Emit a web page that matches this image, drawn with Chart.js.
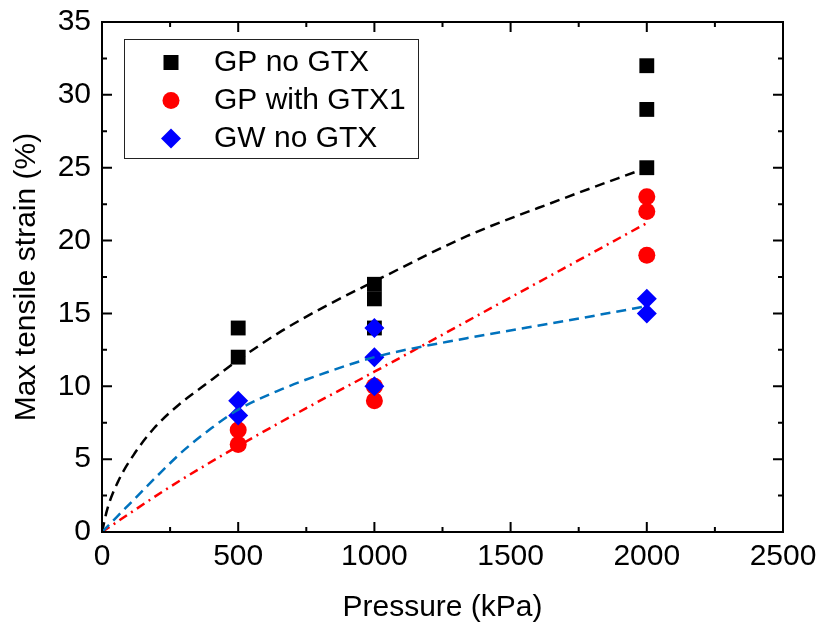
<!DOCTYPE html>
<html>
<head>
<meta charset="utf-8">
<script src="https://cdn.jsdelivr.net/npm/chart.js@4.4.0/dist/chart.umd.min.js"></script>
<style>
  body { margin: 0; background: #fff; }
  #wrap { width: 819px; height: 630px; }
</style>
</head>
<body>
<div id="wrap"><canvas id="strainChart" width="819" height="630"></canvas></div>
<script>
// measured points (pressure kPa / max tensile strain %)
var gpNoGtxX = [500, 500, 1000, 1000, 1000, 2000, 2000, 2000];
var gpNoGtxY = [14, 12, 17, 16, 14, 32, 29, 25];
var gpGtx1X = [500, 500, 1000, 1000, 2000, 2000, 2000];
var gpGtx1Y = [7, 6, 10, 9, 23, 22, 19];
var gwNoGtxX = [500, 500, 1000, 1000, 1000, 2000, 2000];
var gwNoGtxY = [9, 8, 14, 12, 10, 16, 15];

// fitted curves
var gpNoGtxFitX = [0, 20, 60, 120, 190, 280, 378, 500, 660, 831, 1000, 1339, 1681, 2000];
var gpNoGtxFitY = [0, 1.6, 3.5, 5.4, 7.1, 8.7, 10.1, 11.8, 13.8, 15.6, 17.2, 20.3, 22.8, 25.0];
var gpGtx1FitX = [0, 250, 500, 750, 1000, 1500, 2000];
var gpGtx1FitY = [0, 3.1, 5.9, 8.5, 11.0, 16.1, 21.2];
var gwNoGtxFitX = [0, 100, 200, 300, 400, 500, 660, 831, 1000, 1339, 1706, 2000];
var gwNoGtxFitY = [0, 1.9, 3.8, 5.6, 7.1, 8.4, 9.8, 11.0, 12.0, 13.3, 14.5, 15.5];

var xTicks = [0, 500, 1000, 1500, 2000, 2500];
var xMinor = [250, 750, 1250, 1750, 2250];
var yTicks = [0, 5, 10, 15, 20, 25, 30, 35];
var yMinor = [2.5, 7.5, 12.5, 17.5, 22.5, 27.5, 32.5];

var legendNames = ['GP no GTX', 'GP with GTX1', 'GW no GTX'];
var legendColors = ['#000000', '#ff0000', '#0000ff'];
var legendShapes = ['rect', 'circle', 'rectRot'];

var FONT = "'Liberation Sans', Arial, sans-serif";

function toPoints(xs, ys) {
    var pts = [];
    for (var i = 0; i < xs.length; i++) {
        pts.push({ x: xs[i], y: ys[i] });
    }
    return pts;
}

function drawMarker(ctx, shape, x, y, color) {
    ctx.fillStyle = color;
    ctx.beginPath();
    if (shape === 'rect') {
        ctx.rect(x - 7.5, y - 7.5, 15, 15);
    } else if (shape === 'circle') {
        ctx.arc(x, y, 8.5, 0, Math.PI * 2);
    } else {
        ctx.moveTo(x, y - 10);
        ctx.lineTo(x + 10, y);
        ctx.lineTo(x, y + 10);
        ctx.lineTo(x - 10, y);
        ctx.closePath();
    }
    ctx.fill();
}

var frameAndLegend = {
    id: 'frameAndLegend',
    afterDraw: function (chart) {
        var ctx = chart.ctx;
        var a = chart.chartArea;
        var xs = chart.scales.x;
        var ys = chart.scales.y;
        ctx.save();
        ctx.strokeStyle = '#000';
        ctx.lineWidth = 2;
        ctx.strokeRect(a.left, a.top, a.right - a.left, a.bottom - a.top);

        function xTick(v, len) {
            var px = xs.getPixelForValue(v);
            ctx.beginPath();
            ctx.moveTo(px, a.bottom); ctx.lineTo(px, a.bottom - len);
            ctx.moveTo(px, a.top); ctx.lineTo(px, a.top + len);
            ctx.stroke();
        }
        function yTick(v, len) {
            var py = ys.getPixelForValue(v);
            ctx.beginPath();
            ctx.moveTo(a.left, py); ctx.lineTo(a.left + len, py);
            ctx.moveTo(a.right, py); ctx.lineTo(a.right - len, py);
            ctx.stroke();
        }
        xTicks.forEach(function (v) { xTick(v, 10); });
        xMinor.forEach(function (v) { xTick(v, 5); });
        yTicks.forEach(function (v) { yTick(v, 10); });
        yMinor.forEach(function (v) { yTick(v, 5); });

        // legend box
        ctx.lineWidth = 1;
        ctx.strokeStyle = '#222';
        ctx.strokeRect(124.5, 39.5, 294, 119);
        ctx.font = '30px ' + FONT;
        ctx.textBaseline = 'middle';
        ctx.textAlign = 'left';
        var rowY = [63, 101, 139];
        for (var i = 0; i < legendNames.length; i++) {
            drawMarker(ctx, legendShapes[i], 171, rowY[i] - 0.5, legendColors[i]);
            ctx.fillStyle = '#000';
            ctx.fillText(legendNames[i], 214, rowY[i]);
        }
        ctx.restore();
    }
};

var ctx = document.getElementById('strainChart').getContext('2d');
var strainChart = new Chart(ctx, {
    type: 'scatter',
    data: {
        datasets: [
            {
                label: 'GW no GTX fit',
                data: toPoints(gwNoGtxFitX, gwNoGtxFitY),
                showLine: true,
                borderColor: '#0072bd',
                borderWidth: 2.5,
                borderDash: [10, 6],
                cubicInterpolationMode: 'monotone',
                pointRadius: 0,
                order: 1
            },
            {
                label: 'GP with GTX1 fit',
                data: toPoints(gpGtx1FitX, gpGtx1FitY),
                showLine: true,
                borderColor: '#ff0000',
                borderWidth: 2.5,
                borderDash: [9, 5, 2, 5],
                cubicInterpolationMode: 'monotone',
                pointRadius: 0,
                order: 1
            },
            {
                label: 'GP no GTX fit',
                data: toPoints(gpNoGtxFitX, gpNoGtxFitY),
                showLine: true,
                borderColor: '#000000',
                borderWidth: 2.5,
                borderDash: [10, 6],
                cubicInterpolationMode: 'monotone',
                pointRadius: 0,
                order: 1
            },
            {
                label: legendNames[2],
                data: toPoints(gwNoGtxX, gwNoGtxY),
                pointStyle: 'rectRot',
                pointRadius: 10,
                backgroundColor: '#0000ff',
                borderWidth: 0,
                order: 2
            },
            {
                label: legendNames[1],
                data: toPoints(gpGtx1X, gpGtx1Y),
                pointStyle: 'circle',
                pointRadius: 8.5,
                backgroundColor: '#ff0000',
                borderWidth: 0,
                order: 3
            },
            {
                label: legendNames[0],
                data: toPoints(gpNoGtxX, gpNoGtxY),
                pointStyle: 'rect',
                pointRadius: 10.5,
                backgroundColor: '#000000',
                borderWidth: 0,
                order: 4
            }
        ]
    },
    options: {
        responsive: false,
        animation: false,
        layout: { padding: { left: 0, right: 36, top: 22, bottom: 0 } },
        plugins: {
            legend: { display: false },
            tooltip: { enabled: false }
        },
        scales: {
            x: {
                type: 'linear',
                min: 0,
                max: 2500,
                afterFit: function (scale) {
                    scale.height = 98;
                    scale.paddingLeft = 0;
                    scale.paddingRight = 0;
                },
                afterBuildTicks: function (scale) {
                    scale.ticks = xTicks.map(function (v) { return { value: v }; });
                },
                grid: { display: false, drawTicks: false },
                border: { display: false },
                ticks: {
                    padding: 7,
                    color: '#000',
                    font: { family: FONT, size: 30 },
                    maxRotation: 0,
                    callback: function (v) { return String(v); }
                },
                title: {
                    display: true,
                    text: 'Pressure (kPa)',
                    color: '#000',
                    font: { family: FONT, size: 30 },
                    padding: { top: 0, bottom: 4 }
                }
            },
            y: {
                type: 'linear',
                min: 0,
                max: 35,
                afterFit: function (scale) {
                    scale.width = 102;
                    scale.paddingTop = 0;
                    scale.paddingBottom = 0;
                },
                afterBuildTicks: function (scale) {
                    scale.ticks = yTicks.map(function (v) { return { value: v }; });
                },
                grid: { display: false, drawTicks: false },
                border: { display: false },
                ticks: {
                    padding: 11,
                    color: '#000',
                    font: { family: FONT, size: 30 },
                    callback: function (v) { return String(v); }
                },
                title: {
                    display: true,
                    text: 'Max tensile strain (%)',
                    color: '#000',
                    font: { family: FONT, size: 30 },
                    padding: { top: 9, bottom: 0 }
                }
            }
        }
    },
    plugins: [frameAndLegend]
});
</script>
</body>
</html>
